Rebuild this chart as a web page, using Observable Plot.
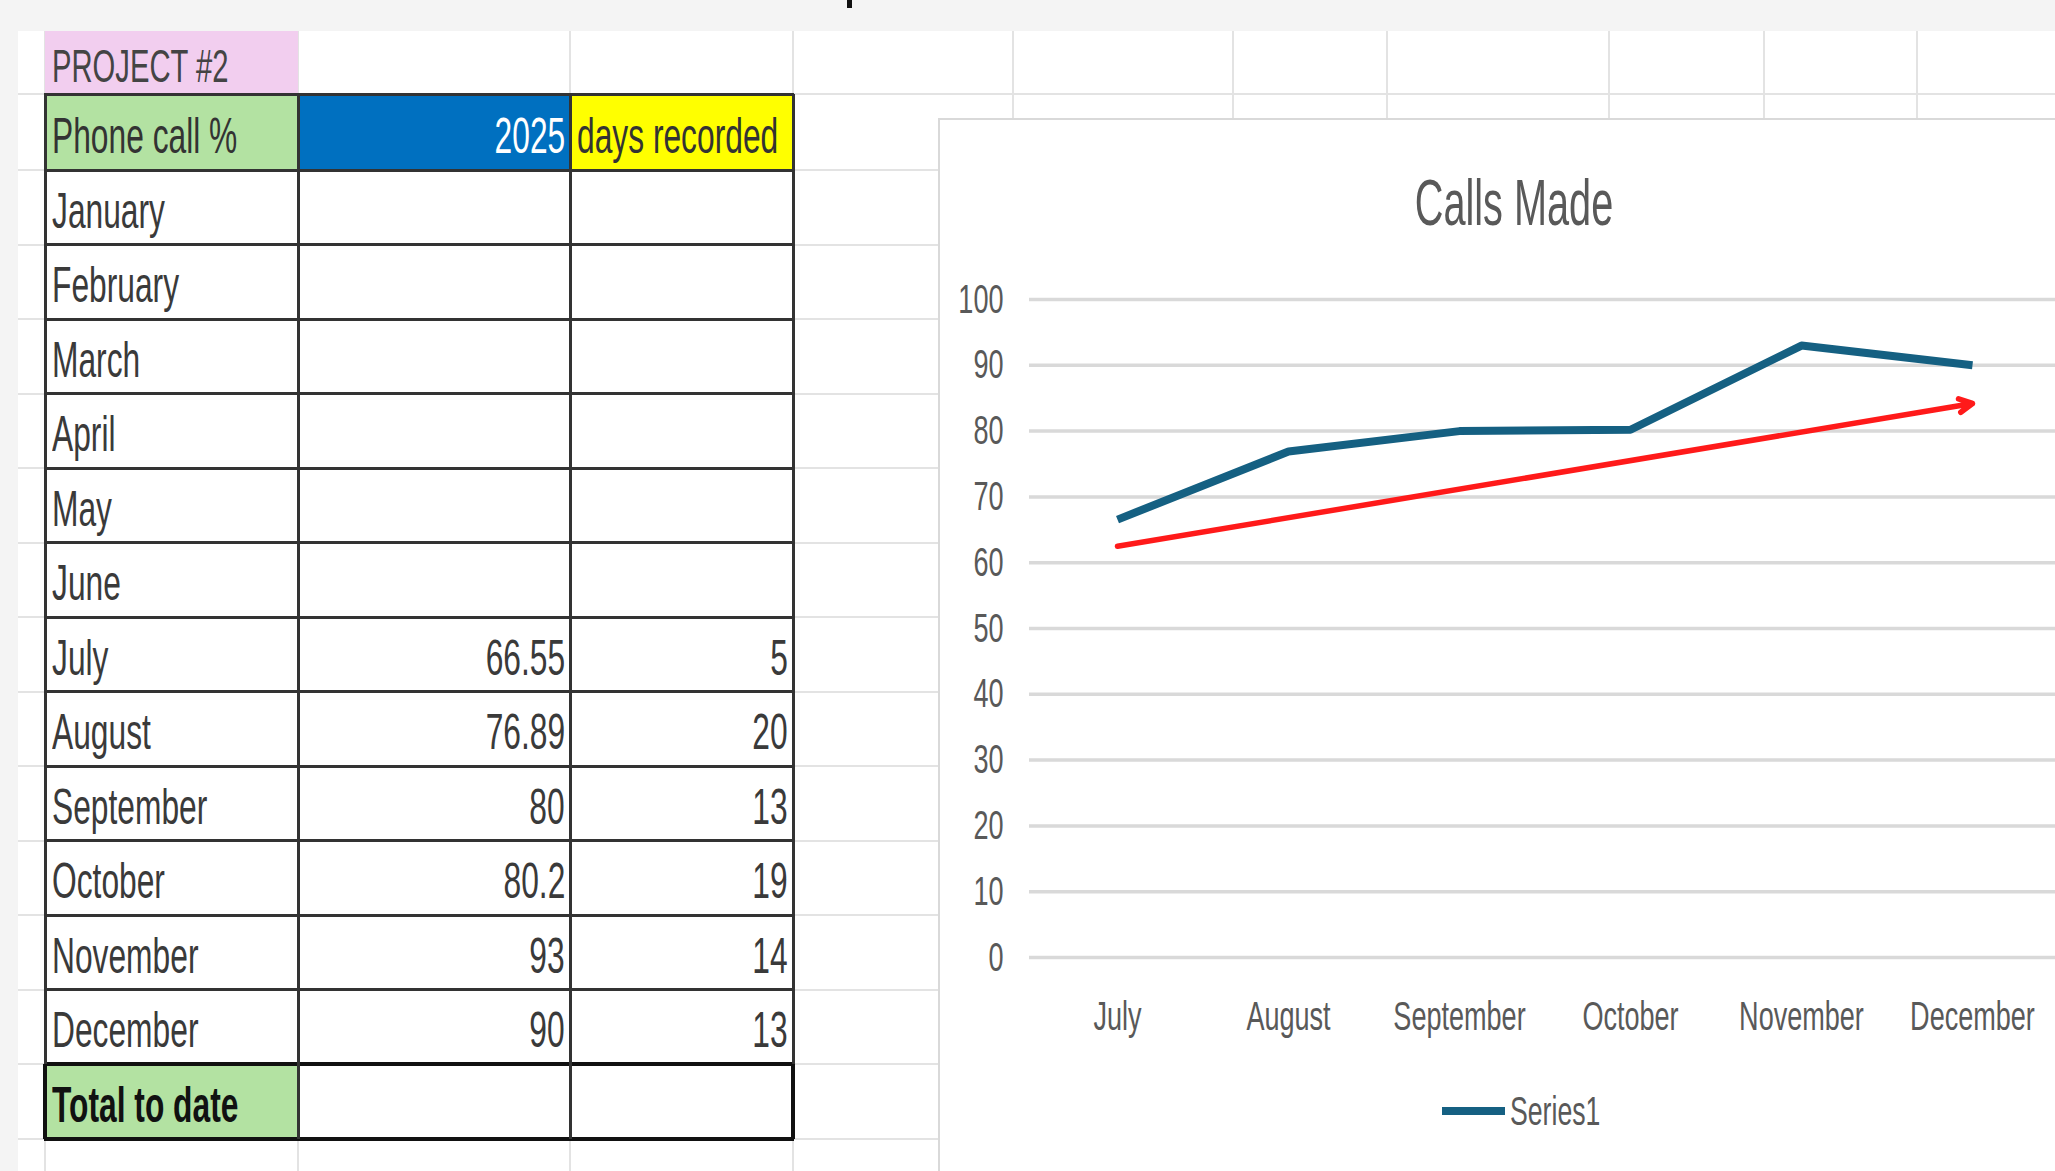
<!DOCTYPE html>
<html><head><meta charset="utf-8">
<script src="https://cdn.jsdelivr.net/npm/d3@7"></script>
<script src="https://cdn.jsdelivr.net/npm/@observablehq/plot@0.6"></script>
<style>
html,body{margin:0;padding:0;width:2055px;height:1171px;overflow:hidden;background:#f4f4f4;}
#page{position:relative;width:2055px;height:1171px;overflow:hidden;}
.abs{position:absolute;}
.nar{font-family:"Liberation Sans Narrow","Liberation Sans",Arial,sans-serif;}
.cell{position:absolute;display:flex;align-items:center;box-sizing:border-box;padding-top:6px;}
.sx{display:inline-block;white-space:nowrap;transform:scaleX(0.635);}
</style></head><body><div id="page"></div>
<script>
// ---- data ----
const months = ["January","February","March","April","May","June","July","August","September","October","November","December"];
const phonePct = [null,null,null,null,null,null,66.55,76.89,80,80.2,93,90];
const daysRecorded = [null,null,null,null,null,null,5,20,13,19,14,13];
const yTicks = [0,10,20,30,40,50,60,70,80,90,100];
const arrowFrom = {month:"July", value:62.5};
const arrowTo = {month:"December", value:84.2};
const headers = ["Phone call %","2025","days recorded"];
const projectLabel = "PROJECT #2";
const totalLabel = "Total to date";
const chartTitle = "Calls Made";
const seriesName = "Series1";

// ---- layout ----
const page = document.getElementById("page");
function box(x,y,w,h,style){const d=document.createElement("div");d.className="abs";Object.assign(d.style,{left:x+"px",top:y+"px",width:w+"px",height:h+"px"},style||{});page.appendChild(d);return d;}

// sheet background
box(18,31,2037,1140,{background:"#ffffff"});
const colX=[45,298,570,793];
const headerTop=94, headerBottom=170, rowH=74.5;
const rowLines=[headerTop,headerBottom];
for(let i=1;i<=13;i++) rowLines.push(headerBottom+i*rowH);
// spreadsheet gridlines
[45,298,570,793,1013,1233,1387,1609,1764,1917].forEach(x=>box(x-1,31,2,1140,{background:"#e3e3e3"}));
rowLines.forEach(y=>box(18,y-1,2037,2,{background:"#e3e3e3"}));
box(847,0,5,8,{background:"#111"});

// table
function cell(x0,x1,y0,y1,bg,text,align,color,weight,size){
  const d=box(x0,y0,x1-x0,y1-y0,{background:bg});
  d.className="cell nar";
  d.style.justifyContent=align==="right"?"flex-end":"flex-start";
  d.style.padding=align==="right"?"7px 5px 0 0":"7px 0 0 7px";
  if(text!=null&&text!==""){
    const s=document.createElement("span");s.className="sx";s.textContent=text;
    s.style.transformOrigin=align==="right"?"right center":"left center";
    s.style.color=color||"#3a3a3a";s.style.fontWeight=weight||"normal";s.style.fontSize=(size||50)+"px";
    d.appendChild(s);
  }
  return d;
}
cell(45,298,31,headerTop,"#f2ceef",projectLabel,"left","#444","normal",46);
cell(colX[0],colX[1],headerTop,headerBottom,"#b3e2a2",headers[0],"left","#333");
cell(colX[1],colX[2],headerTop,headerBottom,"#0070c0",headers[1],"right","#ffffff");
cell(colX[2],colX[3],headerTop,headerBottom,"#ffff00",headers[2],"left","#333");
months.forEach((m,i)=>{
  const y0=headerBottom+i*rowH, y1=y0+rowH;
  cell(colX[0],colX[1],y0,y1,"#fff",m,"left");
  cell(colX[1],colX[2],y0,y1,"#fff",phonePct[i]==null?"":String(phonePct[i]),"right");
  cell(colX[2],colX[3],y0,y1,"#fff",daysRecorded[i]==null?"":String(daysRecorded[i]),"right");
});
const tY0=headerBottom+12*rowH, tY1=tY0+rowH;
cell(colX[0],colX[1],tY0,tY1,"#b3e2a2",totalLabel,"left","#111","bold");
cell(colX[1],colX[2],tY0,tY1,"#fff","","right");
cell(colX[2],colX[3],tY0,tY1,"#fff","","right");
// table borders
rowLines.forEach((y,i)=>{const th=(i>=rowLines.length-2)?4:3;box(colX[0]-1,y-th/2,colX[3]-colX[0]+2,th,{background:i>=rowLines.length-2?"#111":"#333"});});
colX.forEach(x=>box(x-1.5,headerTop,3,rowLines[rowLines.length-1]-headerTop,{background:"#333"}));
box(colX[0]-2,tY0,4,rowH,{background:"#111"});box(colX[3]-2,tY0,4,rowH,{background:"#111"});

// chart area
box(938,118,1130,1060,{background:"#ffffff",borderLeft:"2px solid #d9d9d9",borderTop:"2px solid #d9d9d9",boxSizing:"border-box"});
const t=box(1514,203,0,0,{});
t.innerHTML=`<span class="nar" style="position:absolute;left:0;top:0;transform:translate(-50%,-50%) scaleX(0.62);font-size:64px;color:#595959;white-space:nowrap;">${chartTitle}</span>`;

const chartMonths = months.slice(6);
const callsData = chartMonths.map((m,i)=>({month:m, value:phonePct[6+i]}));
const arrowData = [{x1:arrowFrom.month,y1:arrowFrom.value,x2:arrowTo.month,y2:arrowTo.value}];

const svg = Plot.plot({
  width:1122, height:800, marginLeft:91, marginRight:0, marginTop:49, marginBottom:93,
  style:{fontFamily:'"Liberation Sans Narrow","Liberation Sans",Arial,sans-serif', fontSize:"41px", color:"#595959", background:"transparent", overflow:"visible"},
  x:{type:"point", domain:chartMonths, padding:0.5, tickSize:0, tickPadding:43, label:null},
  y:{domain:[0,100], ticks:yTicks, tickSize:0, tickPadding:26, label:null},
  marks:[
    Plot.ruleY(yTicks,{stroke:"#d9d9d9",strokeWidth:3.5}),
    Plot.line(callsData,{x:"month",y:"value",stroke:"#156082",strokeWidth:8,strokeLinejoin:"round",strokeLinecap:"butt"}),
    Plot.arrow(arrowData,{x1:"x1",y1:"y1",x2:"x2",y2:"y2",stroke:"#ff1a1a",strokeWidth:5.5,headLength:4,headAngle:55})
  ]
});
d3.select(svg).selectAll("text").each(function(){const tr=this.getAttribute("transform")||"";this.setAttribute("transform",tr+" scale(0.66,1)");});
svg.style.position="absolute";svg.style.left="938px";svg.style.top="250px";
page.appendChild(svg);

// legend
box(1442,1107,63,8,{background:"#156082"});
const lg=box(1510,1111,0,0,{});
lg.innerHTML=`<span class="nar" style="position:absolute;left:0;top:0;transform-origin:left center;transform:translateY(-50%) scaleX(0.65);font-size:41px;color:#595959;white-space:nowrap;">${seriesName}</span>`;
</script></body></html>
